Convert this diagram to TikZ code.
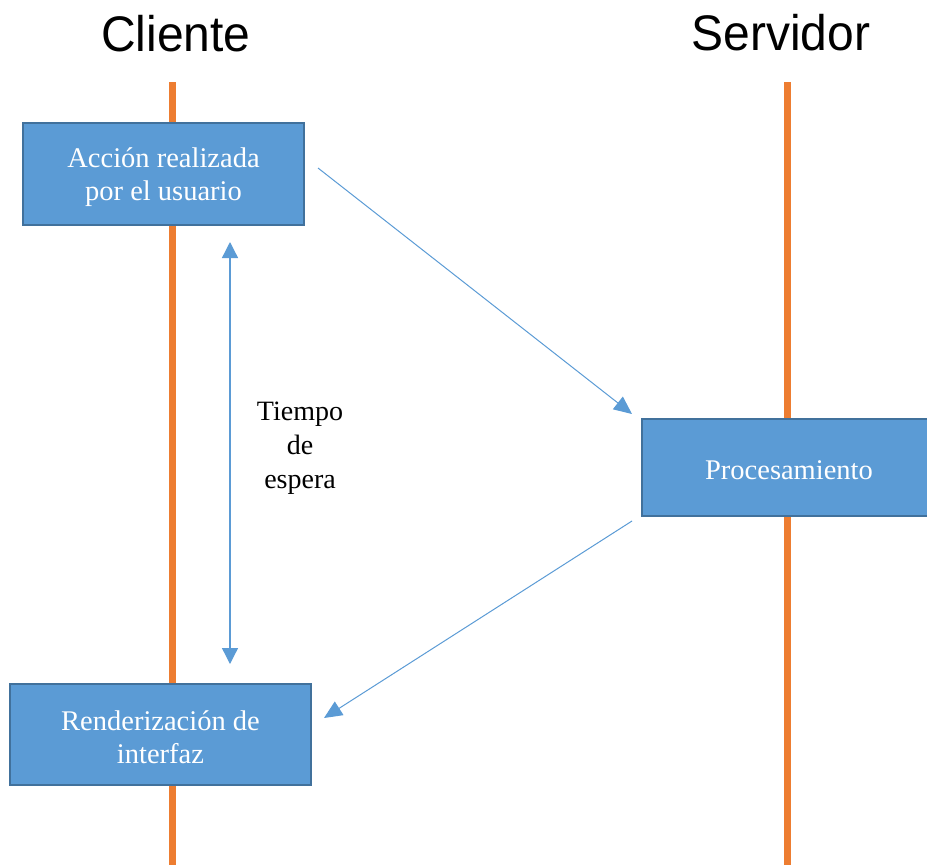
\documentclass[tikz,border=0pt]{standalone}
\usepackage{fontspec}
\setmainfont{Liberation Serif}
\newfontfamily\titlefont[FakeStretch=0.96]{Liberation Sans}
\usetikzlibrary{arrows.meta}
\definecolor{lifeor}{HTML}{ED7D31}
\definecolor{boxfill}{HTML}{5B9BD5}
\definecolor{boxedge}{HTML}{41719C}
\definecolor{arrblue}{HTML}{5B9BD5}
\begin{document}
\begin{tikzpicture}[x=1pt,y=-1pt,
  lifeline/.style={lifeor, line width=7pt},
  procbox/.style={draw=boxedge, fill=boxfill, line width=2pt, inner sep=0pt},
  boxtext/.style={text=white, align=center, font=\fontsize{28.5}{33}\selectfont, inner sep=0pt},
  msg/.style={arrblue, line width=1pt, -{Triangle[length=18pt,width=16pt]}},
  title/.style={font=\titlefont\fontsize{50}{54}\selectfont}]
\useasboundingbox (0,0) rectangle (927,865);
\node[title] (tc) at (176,34) {Cliente};
\node[title] (ts) at (781,33) {Servidor};
\coordinate (c1) at (172,82); \coordinate (c2) at (172,865);
\coordinate (s1) at (787,82); \coordinate (s2) at (787,865);
\draw[lifeline] (c1) -- (c2);
\draw[lifeline] (s1) -- (s2);
\node[procbox, minimum width=281pt, minimum height=102pt] (accion) at (163.5,174) {};
\node[boxtext] (acciontext) at (163.5,177) {Acción realizada\\por el usuario};
\node[procbox, minimum width=300pt, minimum height=97pt] (proc) at (792,467.5) {};
\node[boxtext] (proctext) at (789,470) {Procesamiento};
\node[procbox, minimum width=301pt, minimum height=101pt] (render) at (160.5,734.5) {};
\node[boxtext] (rendertext) at (160.5,737) {Renderización de\\interfaz};
\coordinate (a1s) at (318,168); \coordinate (a1e) at (632,414);
\coordinate (a2s) at (632,521); \coordinate (a2e) at (324,718);
\draw[msg] (a1s) -- (a1e);
\draw[msg] (a2s) -- (a2e);
\coordinate (w1) at (230,242); \coordinate (w2) at (230,664);
\draw[arrblue, line width=1.3pt, {Triangle[length=16pt,width=16pt]}-{Triangle[length=16pt,width=16pt]}] (w1) -- (w2);
\node[align=center, font=\fontsize{28}{34}\selectfont] (espera) at (300,448) {Tiempo\\de\\espera};
\end{tikzpicture}
\end{document}
